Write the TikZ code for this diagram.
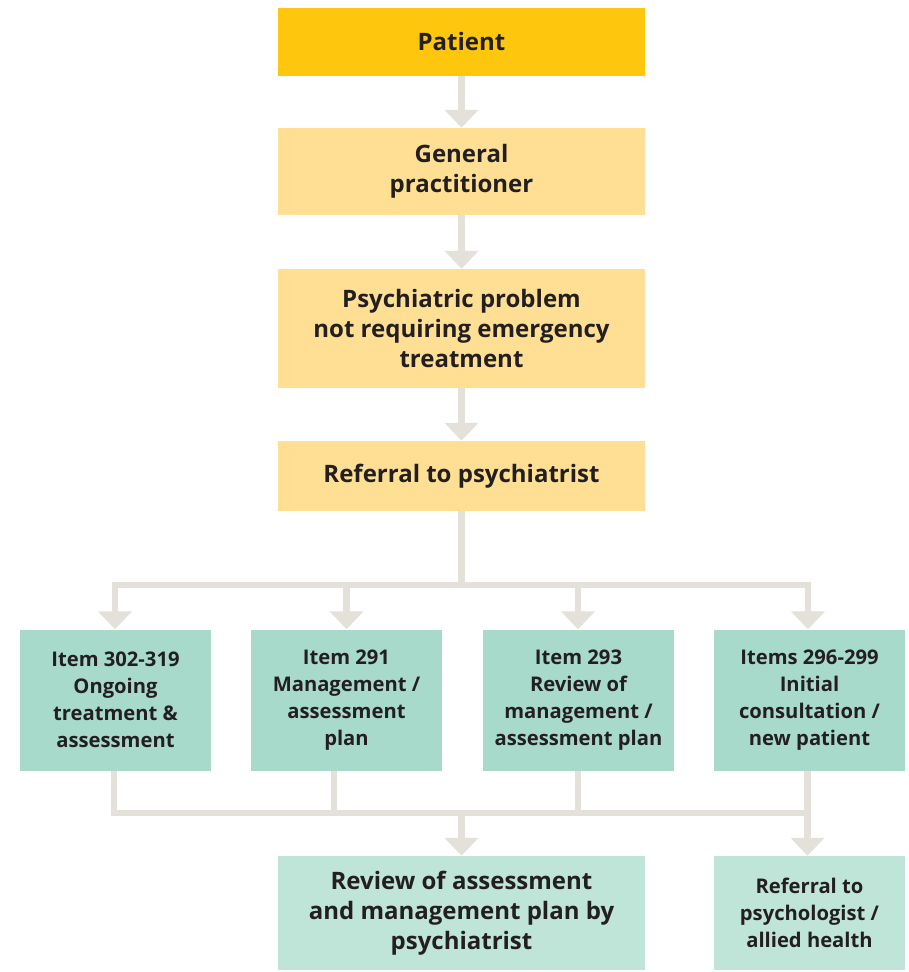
\documentclass[tikz,border=0pt]{standalone}
\usepackage{fontspec}
\setmainfont{Open Sans}[BoldFont={Open Sans Bold}]
\usetikzlibrary{arrows.meta}
\definecolor{gold}{HTML}{FEC70E}
\definecolor{lyellow}{HTML}{FEDF94}
\definecolor{teal}{HTML}{A7DACB}
\definecolor{lteal}{HTML}{BFE4D8}
\definecolor{conn}{HTML}{E3E1D9}
\definecolor{ink}{HTML}{231F20}
\tikzset{
  box/.style={rectangle, inner sep=0pt, align=center, text=ink, font=\bfseries\fontsize{24}{30}\selectfont},
  mainbox/.style={box, minimum width=367pt, fill=lyellow},
  itembox/.style={box, minimum width=191pt, minimum height=141pt, fill=teal, font=\bfseries\fontsize{20.2}{27}\selectfont},
  line/.style={draw=conn, line width=6.5pt},
  arr/.style={line, -{Triangle[width=33pt,length=18pt]}},
}
\begin{document}
\begin{tikzpicture}[x=1pt,y=-1pt]
\useasboundingbox (0,0) rectangle (909,972);
\node[mainbox, fill=gold, minimum height=68pt] (pat) at (461.5,41.5) {Patient};
\node[mainbox, minimum height=87pt] (gp) at (461.5,171.5) {General\\practitioner};
\node[mainbox, minimum height=119pt] (psy) at (461.5,328.5) {Psychiatric problem\\not requiring emergency\\treatment};
\node[mainbox, minimum height=70pt] (ref) at (461.5,476) {Referral to psychiatrist};

\node[itembox] (i1) at (115.5,700) {Item 302-319\\Ongoing\\treatment \&\\assessment};
\node[itembox] (i2) at (346.5,700) {Item 291\\Management /\\assessment\\plan};
\node[itembox] (i3) at (578.5,700) {Item 293\\Review of\\management /\\assessment plan};
\node[itembox] (i4) at (809.5,700) {Items 296-299\\Initial\\consultation /\\new patient};

\node[mainbox, fill=lteal, minimum height=114pt] (rev) at (461.5,913) {Review of assessment\\and management plan by\\psychiatrist};
\node[itembox, fill=lteal, minimum height=114pt] (rpsy) at (809.5,913) {Referral to\\psychologist /\\allied health};

\draw[arr] (pat) -- (gp);
\draw[arr] (gp) -- (psy);
\draw[arr] (psy) -- (ref);

\coordinate (hbar) at (461.5,585);
\coordinate (lbar) at (461.5,813);
\coordinate (i2b) at (334,770.5);

\draw[line] (ref.south) -- (ref.south |- hbar);
\draw[line, line cap=rect] ([xshift=-0.5pt]i1.north |- hbar) -- ([xshift=-1.5pt]i4.north |- hbar);
\draw[arr] ([xshift=-0.5pt]i1.north |- hbar) -- ([xshift=-0.5pt]i1.north);
\draw[arr] (i2.north |- hbar) -- (i2.north);
\draw[arr] ([xshift=-0.5pt]i3.north |- hbar) -- ([xshift=-0.5pt]i3.north);
\draw[arr] ([xshift=-1.5pt]i4.north |- hbar) -- ([xshift=-1.5pt]i4.north);

\draw[line] ([xshift=-1.5pt]i1.south) -- ([xshift=-1.5pt]i1.south |- lbar);
\draw[line] (i2b) -- (i2b |- lbar);
\draw[line] ([xshift=-0.5pt]i3.south) -- ([xshift=-0.5pt]i3.south |- lbar);
\draw[line] ([xshift=-2pt]i4.south) -- ([xshift=-2pt]i4.south |- lbar);
\draw[line, line cap=rect] ([xshift=-1.5pt]i1.south |- lbar) -- ([xshift=-2pt]i4.south |- lbar);
\draw[arr] (rev.north |- lbar) -- (rev.north);
\draw[arr] ([xshift=-2pt]rpsy.north |- lbar) -- ([xshift=-2pt]rpsy.north);
\end{tikzpicture}
\end{document}
